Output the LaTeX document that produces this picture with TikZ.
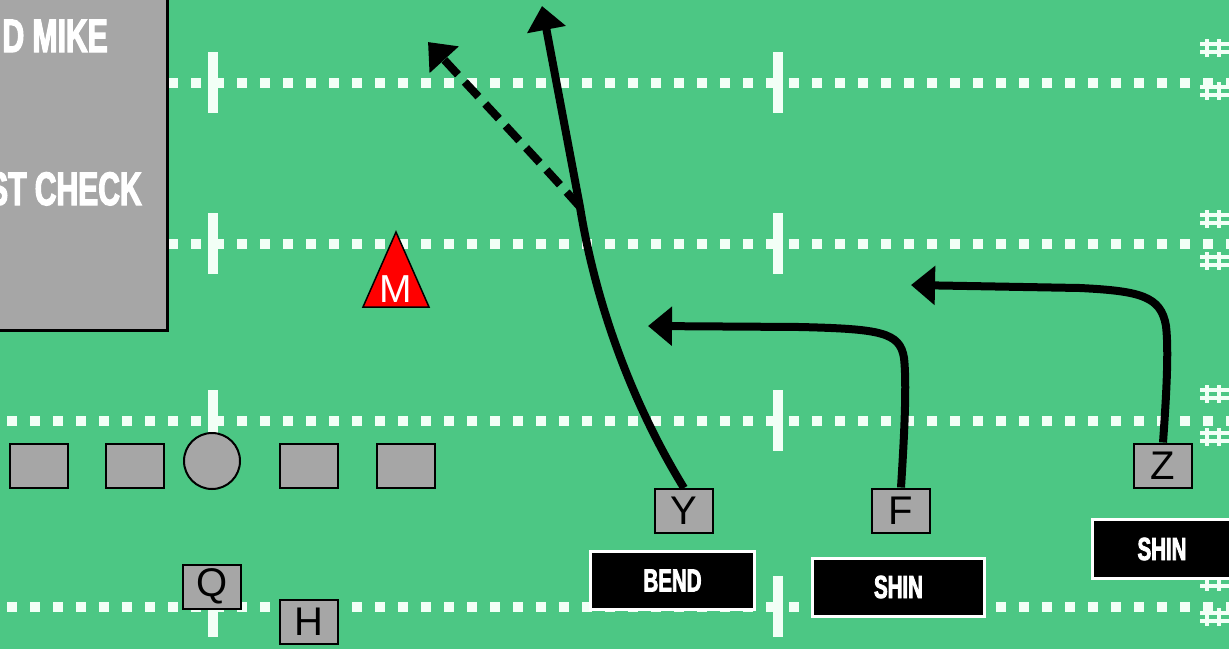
\documentclass[tikz,border=0pt]{standalone}
\usepackage{fontspec}
\setmainfont{Liberation Sans}
\newfontfamily\condensed[FakeStretch=0.64, FakeBold=2.5]{Liberation Sans Bold}
\usetikzlibrary{arrows.meta}
\definecolor{turf}{RGB}{76,199,132}
\definecolor{plgrey}{RGB}{166,166,166}
\definecolor{chalk}{RGB}{242,255,246}
\tikzset{
  player/.style={draw=black, line width=2pt, fill=plgrey, minimum width=58pt,
    minimum height=44pt, inner sep=0pt, font=\fontsize{40}{40}\selectfont},
  center/.style={draw=black, line width=2pt, fill=plgrey, circle,
    minimum size=56pt, inner sep=0pt},
  tag/.style={draw=white, line width=3pt, fill=black, text=white, inner sep=0pt,
    minimum height=58pt, font=\condensed\fontsize{32}{32}\selectfont},
  boxtext/.style={text=white, inner sep=0pt,
    font=\condensed\fontsize{47}{47}\selectfont},
  route/.style={line width=8pt, -{Triangle[length=24pt,width=38pt]}},
  option/.style={route, dash pattern=on 20pt off 10pt},
  hash/.style={chalk, line width=3.5pt}
}
\begin{document}
\begin{tikzpicture}[x=1pt,y=-1pt]
\clip (0,0) rectangle (1229,649);
\fill[turf] (0,0) rectangle (1229,649);

% yard lines made of small squares
\foreach \y in {83,244,421,607}{
  \foreach \k in {0,...,53}{
    \fill[chalk] (7+23*\k,\y-5) rectangle ++(10,10);
  }
  % hash bars across each line
  \foreach \x in {213,778}{
    \fill[chalk] (\x-5,\y-31) rectangle (\x+5,\y+30);
  }
}
% number marks at the sideline
\foreach \y in {48,91,219,261,394,437,582,617}{
  \draw[hash] (1200,\y-4) -- (1229,\y-4);
  \draw[hash] (1200,\y+4) -- (1229,\y+4);
  \draw[hash] (1207,\y-9) -- (1207,\y+9);
  \draw[hash] (1219,\y-9) -- (1219,\y+9);
}

% call-out panel
\draw[line width=3pt, fill=plgrey] (-10,-10) rectangle (167,330);
\node[boxtext, anchor=base east] (call1) at (108,52) {D MIKE};
\node[boxtext, anchor=base east] (call2) at (142,205) {ST CHECK};

% linebacker
\draw[fill=red, line width=1.5pt, line join=miter] (396,232) -- (429,307) -- (363,307) -- cycle;
\node[text=white, inner sep=0pt, font=\fontsize{39}{39}\selectfont] (M) at (396,289.5) {M};

% offensive line
\node[player] (lt) at (38.5,465.5) {};
\node[player] (lg) at (135,465.5) {};
\node[center] (c) at (212,461) {};
\node[player] (rg) at (309,465.5) {};
\node[player] (rt) at (406,465.5) {};

% backs and receivers
\node[player] (Q) at (212,586.5) {Q};
\node[player] (H) at (309,621.5) {H};
\node[player] (Y) at (684,511) {Y};
\node[player] (F) at (901,510.5) {F};
\node[player] (Z) at (1163,465.5) {Z};

% route tags
\node[tag, minimum width=164pt] (tagY) at (672.5,580.5) {BEND};
\node[tag, minimum width=172pt] (tagF) at (898.5,587) {SHIN};
\node[tag, minimum width=139pt, minimum height=59pt] (tagZ) at (1162,549) {SHIN};

% routes
\coordinate (split) at (580,207);
\coordinate (yEnd) at (542,6);
\coordinate (optEnd) at (428,42);
\coordinate (fEnd) at (648,326);
\coordinate (zEnd) at (911,285);
\draw[route] (Y.north) .. controls (630,400) and (595,300) .. (split) -- (yEnd);
\draw[option] (split) .. controls (540,162) and (470,88) .. (optEnd);
\draw[route] (F.north) .. controls (904,440) and (907,385) .. (904,358)
  .. controls (900,332) and (880,329) .. (800,327) -- (fEnd);
\draw[route] (Z.north) .. controls (1166,400) and (1169,352) .. (1166,326)
  .. controls (1161,296) and (1140,291) .. (1080,288) -- (zEnd);
\end{tikzpicture}
\end{document}
